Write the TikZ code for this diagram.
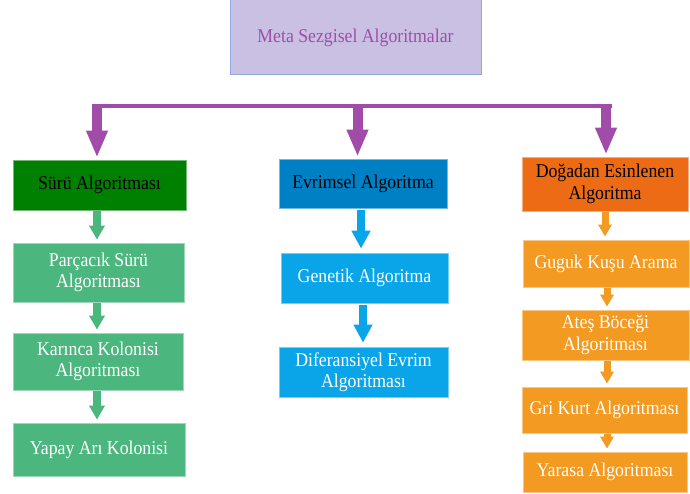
\documentclass[tikz,border=0pt]{standalone}
\usepackage{fontspec}
\setmainfont{Liberation Serif}[FakeStretch=0.91]
\usetikzlibrary{arrows.meta}
\definecolor{lav}{HTML}{C9C0E4}
\definecolor{lavborder}{HTML}{8FAADC}
\definecolor{purptext}{HTML}{9E4FA5}
\definecolor{purp}{HTML}{A14CA8}
\definecolor{dgreen}{HTML}{008000}
\definecolor{dblue}{HTML}{0080C4}
\definecolor{dorange}{HTML}{EE6B15}
\definecolor{lgreen}{HTML}{4BB67E}
\definecolor{lblue}{HTML}{0AA5E8}
\definecolor{lorange}{HTML}{F29A21}
\begin{document}
\begin{tikzpicture}[x=1pt,y=-1pt,
  boxbase/.style={rectangle, inner sep=0pt, align=center, font=\fontsize{19.5}{21.5}\selectfont},
  topbox/.style={boxbase, fill=lav, draw=lavborder, line width=1pt, text=purptext},
  onebox/.style={boxbase, fill=#1, draw=#1!55!white, line width=0.8pt, text=black},
  twobox/.style={boxbase, fill=#1, draw=#1!55!white, line width=0.8pt, text=white},
  purpbar/.style={draw=purp, line width=4pt},
  purparrow/.style={draw=purp, line width=10pt, -{Triangle[width=20pt,length=27pt]}, shorten >=2pt},
  garrow/.style={draw=lgreen, line width=8pt, -{Triangle[width=15pt,length=14pt]}, shorten <=1pt, shorten >=3pt},
  barrow/.style={draw=lblue, line width=8pt, -{Triangle[width=18pt,length=18pt]}, shorten <=2pt, shorten >=4pt},
  oarrow/.style={draw=lorange, line width=7pt, -{Triangle[width=13pt,length=12pt]}, shorten <=1pt, shorten >=3pt}
]
\useasboundingbox (0,0) rectangle (690,494);

% top
\node[topbox, minimum width=251pt, minimum height=75pt] (meta) at (355.5,37.5) {Meta Sezgisel Algoritmalar};

% level one
\node[onebox=dgreen, minimum width=173pt, minimum height=50pt] (swarm) at (99.5,185) {Sürü Algoritması};
\node[onebox=dblue, minimum width=168pt, minimum height=49pt] (evr) at (363,183.5) {Evrimsel Algoritma};
\node[onebox=dorange, minimum width=166pt, minimum height=54pt] (nat) at (605,184) {Doğadan Esinlenen\\Algoritma};

% green column
\node[twobox=lgreen, minimum width=171pt, minimum height=59pt] (pso) at (98.5,272.5) {Parçacık Sürü\\Algoritması};
\node[twobox=lgreen, minimum width=170pt, minimum height=57pt] (aco) at (98,361.5) {Karınca Kolonisi\\Algoritması};
\node[twobox=lgreen, minimum width=172pt, minimum height=53pt] (abc) at (99,449.5) {Yapay Arı Kolonisi};

% blue column
\node[twobox=lblue, minimum width=167pt, minimum height=50pt] (ga) at (364.5,278) {Genetik Algoritma};
\node[twobox=lblue, minimum width=169pt, minimum height=50pt] (de) at (363.5,372) {Diferansiyel Evrim\\Algoritması};

% orange column
\node[twobox=lorange, minimum width=166pt, minimum height=47pt] (cs) at (606,263.5) {Guguk Kuşu Arama};
\node[twobox=lorange, minimum width=167pt, minimum height=50pt] (fa) at (605.5,335) {Ateş Böceği\\Algoritması};
\node[twobox=lorange, minimum width=165pt, minimum height=46pt] (gwo) at (604.5,410) {Gri Kurt Algoritması};
\node[twobox=lorange, minimum width=164pt, minimum height=40pt] (bat) at (605,472) {Yarasa Algoritması};

% purple bracket
\coordinate (bl) at (92,106);
\coordinate (br) at (612,106);
\coordinate (al) at (97,104);
\coordinate (am) at (357.5,104);
\coordinate (ar) at (606,104);
\draw[purpbar] (bl) -- (br);
\draw[purparrow] (al) -- (swarm.north -| al);
\draw[purparrow] (am) -- (evr.north -| am);
\draw[purparrow] (ar) -- (nat.north -| ar);

% column arrows
\draw[garrow] ([xshift=-2.5pt]swarm.south) -- ([xshift=-1.5pt]pso.north);
\draw[garrow] ([xshift=-1.5pt]pso.south) -- ([xshift=-1pt]aco.north);
\draw[garrow] ([xshift=-1pt]aco.south) -- ([xshift=-2pt]abc.north);
\draw[barrow] ([xshift=-2pt]evr.south) -- ([xshift=-3.5pt]ga.north);
\draw[barrow] ([xshift=-1.5pt]ga.south) -- ([xshift=-0.5pt]de.north);
\draw[oarrow] (nat.south) -- (cs.north -| nat.south);
\draw[oarrow] ([xshift=1pt]cs.south) -- ([xshift=1.5pt]fa.north);
\draw[oarrow] ([xshift=1.5pt]fa.south) -- ([xshift=2.5pt]gwo.north);
\draw[oarrow] ([xshift=2.5pt]gwo.south) -- ([xshift=2pt]bat.north);
\end{tikzpicture}
\end{document}
